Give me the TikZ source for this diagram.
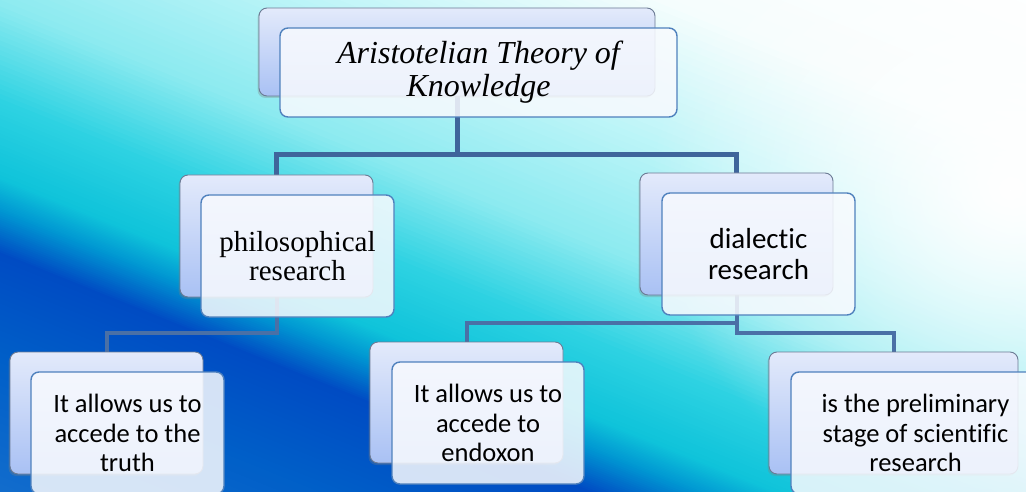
\documentclass[tikz,border=0pt]{standalone}
\usepackage{fontspec}
\newfontfamily\serifA{Liberation Serif}
\newfontfamily\sansC[Ligatures=NoCommon]{Carlito}
\usetikzlibrary{shadows,fadings}
\definecolor{bgA}{RGB}{20,110,205}
\definecolor{bgB}{RGB}{0,95,200}
\definecolor{bgC}{RGB}{0,75,195}
\definecolor{bgD}{RGB}{0,150,210}
\definecolor{bgE}{RGB}{15,195,218}
\definecolor{bgF}{RGB}{45,210,226}
\definecolor{bgG}{RGB}{140,234,240}
\definecolor{bgH}{RGB}{190,245,248}
\definecolor{bgI}{RGB}{245,253,253}
\definecolor{backtop}{RGB}{227,234,251}
\definecolor{backbot}{RGB}{169,193,244}
\definecolor{backline}{RGB}{107,122,148}
\definecolor{frontfill}{RGB}{248,250,254}
\definecolor{frontline}{RGB}{79,129,189}
\definecolor{connA}{RGB}{63,101,155}
\definecolor{connB}{RGB}{74,112,166}
\tikzfading[name=glowfade, inner color=transparent!0, outer color=transparent!100]
\pgfdeclarelayer{bglayer}
\pgfdeclarelayer{connlayer}
\pgfsetlayers{bglayer,connlayer,main}
\begin{document}
\begin{tikzpicture}[x=1pt,y=-1pt,
  backbox/.style={rectangle, rounded corners=8pt, draw=backline, line width=0.9pt,
    top color=backtop, bottom color=backbot, inner sep=0pt,
    drop shadow={shadow xshift=-1.5pt, shadow yshift=-2pt, opacity=0.3}},
  frontbox/.style={rectangle, rounded corners=8pt, draw=frontline, line width=1.4pt,
    fill=frontfill, fill opacity=0.86, text opacity=1, draw opacity=1,
    inner sep=0pt, align=center, text=black},
  serifbox/.style={font=\serifA\fontsize{29}{29.5}\selectfont},
  titlebox/.style={font=\serifA\itshape\fontsize{32}{33}\selectfont},
  bigsans/.style={font=\sansC\fontsize{29}{31}\selectfont},
  smallsans/.style={font=\sansC\fontsize{26.5}{29.5}\selectfont},
  conn1/.style={draw=connA, line width=5pt},
  conn2/.style={draw=connB, line width=4pt}]
\useasboundingbox (0,0) rectangle (1026,492);

\begin{pgfonlayer}{bglayer}
\begin{scope}
\clip (0,0) rectangle (1026,492);
\begin{scope}[shift={(513,246)},rotate=68]
\foreach \ta/\tb/\ca/\cb in {-440/-300/bgA/bgB,-300/-200/bgB/bgC,-200/-160/bgC/bgD,-160/-130/bgD/bgE,-130/-60/bgE/bgF,-60/30/bgF/bgG,30/150/bgG/bgH,150/280/bgH/bgI,280/440/bgI/white}{
  \foreach \k in {0,...,19}{
    \pgfmathsetmacro\bgs{\ta+(\tb-\ta)*\k/20}
    \pgfmathsetmacro\bge{\ta+(\tb-\ta)*(\k+1)/20+1.5}
    \pgfmathtruncatemacro\bgp{100-5*\k}
    \colorlet{stripcol}{\ca!\bgp!\cb}
    \fill[stripcol] (\bgs,-800) rectangle (\bge,800);
  }
}
\end{scope}
\fill[white, path fading=glowfade] (1010,190) ellipse [x radius=360pt, y radius=320pt];
\end{scope}
\end{pgfonlayer}

% level 1
\node[backbox, minimum width=396pt, minimum height=88pt] (topB) at (457,52) {};
\node[frontbox, titlebox, minimum width=397pt, minimum height=89pt] (topF) at (478.5,72.5) {Aristotelian Theory of\\Knowledge};

% level 2
\node[backbox, minimum width=193pt, minimum height=122pt] (philB) at (276.5,236) {};
\node[frontbox, serifbox, minimum width=193pt, minimum height=122pt] (philF) at (297.5,256) {philosophical\\research};

\node[backbox, minimum width=193pt, minimum height=122pt] (dialB) at (736.5,234) {};
\node[frontbox, bigsans, minimum width=193pt, minimum height=122pt] (dialF) at (758.5,254) {dialectic\\research};

% level 3
\node[backbox, minimum width=193pt, minimum height=122pt] (truthB) at (106.5,413) {};
\node[frontbox, smallsans, minimum width=193pt, minimum height=122pt] (truthF) at (127.5,433) {It allows us to\\accede to the\\truth};

\node[backbox, minimum width=193pt, minimum height=121pt] (endoB) at (466.5,402.5) {};
\node[frontbox, smallsans, minimum width=192pt, minimum height=122pt] (endoF) at (488,423) {It allows us to\\accede to\\endoxon};

\node[backbox, minimum width=249pt, minimum height=122pt] (prelB) at (893.5,413) {};
\node[frontbox, smallsans, minimum width=249pt, minimum height=122pt] (prelF) at (915.5,433) {is the preliminary\\stage of scientific\\research};

\begin{pgfonlayer}{connlayer}
\coordinate (j1) at (457,155);
\draw[conn1] (topB.center) -- (j1) -| (philB.north);
\draw[conn1] (j1) -| (dialB.north);
\coordinate (j2) at (276.5,333);
\draw[conn2] (philB.center) -- (j2) -| (truthB.north);
\coordinate (j3) at (736.5,323);
\coordinate (j4) at (736.5,333);
\draw[conn2] (dialB.center) -- (j4) -| (prelB.north);
\draw[conn2] (j3) -| (endoB.north);
\end{pgfonlayer}
\end{tikzpicture}
\end{document}
